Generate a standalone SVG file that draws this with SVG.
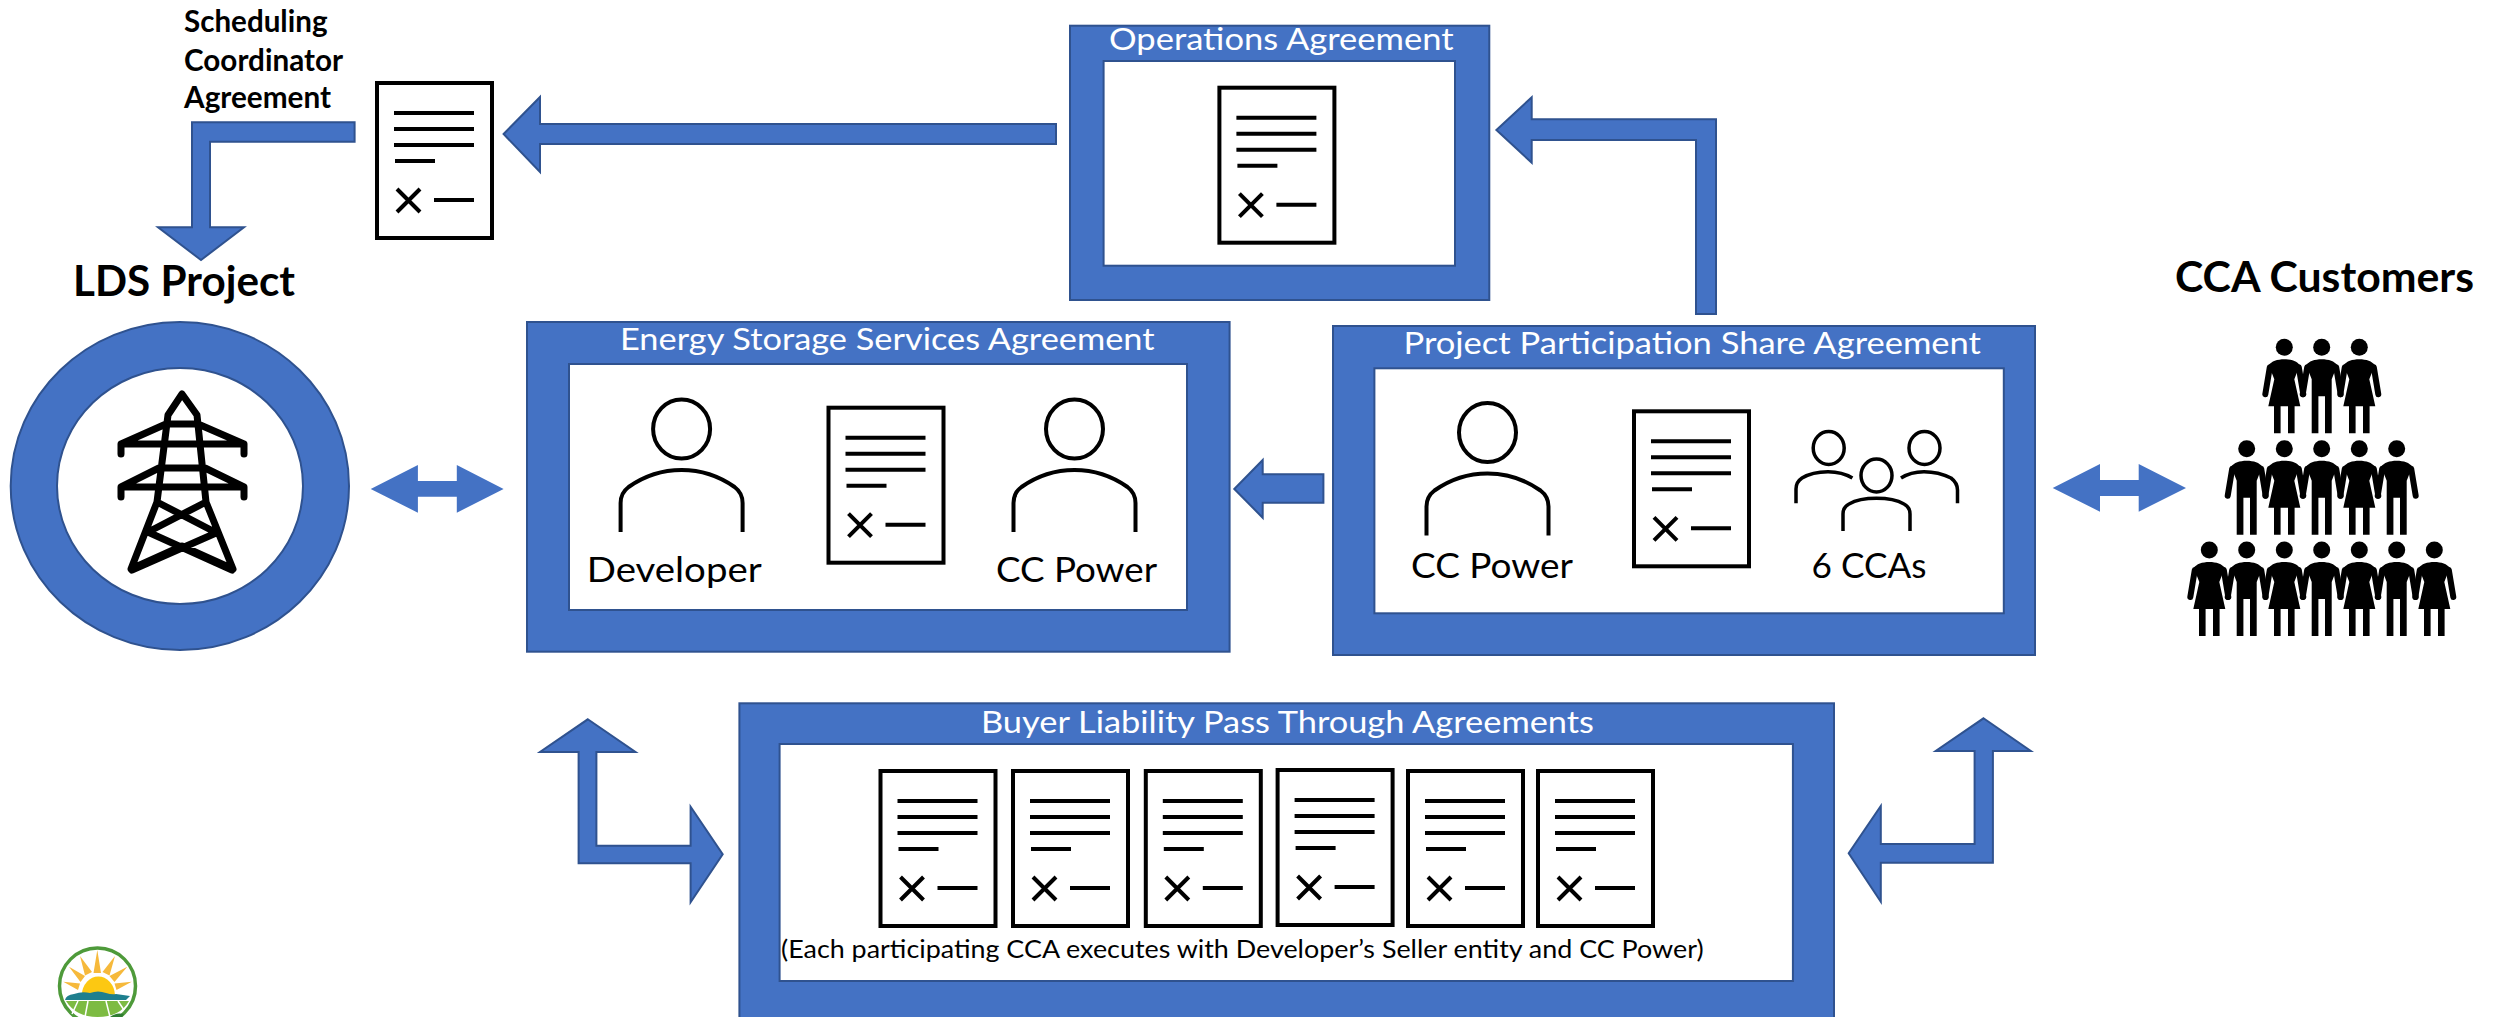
<svg xmlns="http://www.w3.org/2000/svg" xmlns:xlink="http://www.w3.org/1999/xlink" width="2496" height="1017" viewBox="0 0 2496 1017">
<style>
text{font-family:"Lato","Open Sans","Liberation Sans",sans-serif}
.frame{fill:#4472C4;stroke:#2F528F;stroke-width:2}
.panel{fill:#fff;stroke:#2F528F;stroke-width:2}
.arrow{fill:#4472C4;stroke:#2F528F;stroke-width:2}
.flat{fill:#4472C4}
.title{fill:#fff;font-size:30.500px}
.label{fill:#000;font-size:35.500px}
.head{fill:#000;font-size:42px;font-weight:700}
.sc{fill:#000;font-size:29.500px;font-weight:700}
.cap{fill:#000;font-size:25px}
.ink{fill:none;stroke:#000;stroke-width:4}
.fig{fill:#000}
.figarm{fill:none;stroke:#000;stroke-width:6;stroke-linecap:round}
.tower{fill:none;stroke:#000;stroke-width:7;stroke-linecap:round;stroke-linejoin:round}
</style>
<defs>
<g id="doc">
<rect class="ink" x="2" y="2" width="115" height="155" fill="#fff" style="fill:#fff"/>
<path class="ink" d="M19 32H99M19 48H99M19 64H99M20 80H60M59 119H99M22 108L45 131M45 108L22 131"/>
</g>
<g id="person">
<ellipse class="ink" rx="28.500" ry="29.500"/>
<path class="ink" d="M-61 103V74Q-61 64-53 58C-36 46-16 41 0 41C16 41 36 46 53 58Q61 64 61 74V103"/>
</g>
<g id="man">
<circle class="fig" r="8.500"/>
<path class="fig" d="M0 12C-7 12-13 14-15.500 18L-10 32V86H-3.300V49H3.300V86H10V32L15.500 18C13 14 7 12 0 12Z"/>
<path class="figarm" d="M-14.500 20L-19 47M14.500 20L19 47"/>
</g>
<g id="woman">
<circle class="fig" r="8.500"/>
<path class="fig" d="M0 12C-7 12-13 14-15.500 18L-10 32L-16 59H-10.300V86H-3.700V59H3.700V86H10.300V59H16L10 32L15.500 18C13 14 7 12 0 12Z"/>
<path class="figarm" d="M-14.500 20L-19 47M14.500 20L19 47"/>
</g>
</defs>
<rect width="2496" height="1017" fill="#fff"/>

<g id="connectors">
<polygon class="arrow" points="354.600,122.300 192,122.300 192,227.300 158,227.300 201,260 244,227.300 210,227.300 210,141.700 354.600,141.700"/>
<polygon class="arrow" points="503.600,134 540,97 540,124 1056,124 1056,144 540,144 540,172"/>
<polygon class="arrow" points="1496.400,130 1531.700,97.300 1531.700,119.300 1716,119.300 1716,314 1696,314 1696,140 1531.700,140 1531.700,162.700"/>
<polygon class="arrow" points="1234.300,489 1262.700,460 1262.700,474.300 1323.400,474.300 1323.400,502.700 1262.700,502.700 1262.700,517.700"/>
<polygon class="flat" points="370.700,489 417.900,465 417.900,481 456.800,481 456.800,465 503.600,489 456.800,512.700 456.800,496.700 417.900,496.700 417.900,512.700"/>
<polygon class="flat" points="2052.700,488 2100,464 2100,480 2138.700,480 2138.700,464 2186,488 2138.700,511.700 2138.700,496 2100,496 2100,511.700"/>
<polygon class="arrow" points="587.800,719.300 635.500,752 596.400,752 596.400,845.700 690.600,845.700 690.600,806.700 722.700,854.300 690.600,902.300 690.600,863.300 578.600,863.300 578.600,752 540,752"/>
<polygon class="arrow" points="1983.500,718.300 2030.800,751 1992.900,751 1992.900,862.700 1880.800,862.700 1880.800,901.700 1848.700,853.300 1880.800,806 1880.800,844 1974.600,844 1974.600,751 1935.700,751"/>
</g>

<g id="scheduling-coordinator-agreement">
<text class="sc" x="184" y="32" textLength="143.500" lengthAdjust="spacingAndGlyphs">Scheduling</text>
<text class="sc" x="184" y="70.700" textLength="159" lengthAdjust="spacingAndGlyphs">Coordinator</text>
<text class="sc" x="184" y="108" textLength="147" lengthAdjust="spacingAndGlyphs">Agreement</text>
<use xlink:href="#doc" href="#doc" transform="translate(375,81)"/>
</g>

<g id="operations-agreement">
<rect class="frame" x="1070" y="25.700" width="419.300" height="274.300"/>
<rect class="panel" x="1103.600" y="61" width="351.400" height="204.700"/>
<text class="title" x="1109" y="50" textLength="344.600" lengthAdjust="spacingAndGlyphs">Operations Agreement</text>
<use xlink:href="#doc" href="#doc" transform="translate(1217.400,85.700)"/>
</g>

<g id="lds-project">
<text class="head" x="73" y="296" textLength="222" lengthAdjust="spacingAndGlyphs">LDS Project</text>
<path d="M180 322C273.300 322 349 395.400 349 486C349 576.600 273.300 650 180 650C86.700 650 10.700 576.600 10.700 486C10.700 395.400 86.700 322 180 322ZM180 368C112 368 57 420.800 57 486C57 551.200 112 604 180 604C248 604 303 551.200 303 486C303 420.800 248 368 180 368Z" fill="#4472C4" fill-rule="evenodd" stroke="#2F528F" stroke-width="2"/>
<path class="tower" d="M168 415L182 394L197 415L206 502L233 569L182 546L131 569L157 502L168 415ZM168 424H197M166 424L121 444V454M198 424L244 444V454M121 444H244M159 468H205M159 468L121 487V497M205 468L244 487V497M121 487H244M157 502L211 530M206 502L152 530M150 533L232 570M216 533L132 570"/>
</g>

<g id="energy-storage-services-agreement">
<rect class="frame" x="527" y="322" width="702.600" height="329.700"/>
<rect class="panel" x="569" y="364" width="618" height="246"/>
<text class="title" x="620" y="350" textLength="534.600" lengthAdjust="spacingAndGlyphs">Energy Storage Services Agreement</text>
<use xlink:href="#person" href="#person" transform="translate(681.600,429)"/>
<use xlink:href="#person" href="#person" transform="translate(1074.500,429)"/>
<use xlink:href="#doc" href="#doc" transform="translate(826.500,405.700)"/>
<text class="label" x="586.700" y="581.700" textLength="175" lengthAdjust="spacingAndGlyphs">Developer</text>
<text class="label" x="996" y="581.700" textLength="161" lengthAdjust="spacingAndGlyphs">CC Power</text>
</g>

<g id="project-participation-share-agreement">
<rect class="frame" x="1333" y="326" width="702" height="329"/>
<rect class="panel" x="1374.400" y="368.300" width="629.400" height="245"/>
<text class="title" x="1403.500" y="354" textLength="577.500" lengthAdjust="spacingAndGlyphs">Project Participation Share Agreement</text>
<use xlink:href="#person" href="#person" transform="translate(1487.500,432.500)"/>
<use xlink:href="#doc" href="#doc" transform="translate(1632,409.300)"/>
<ellipse class="ink" cx="1828.700" cy="448" rx="15.500" ry="16.500" style="stroke-width:3.500"/>
<ellipse class="ink" cx="1924.500" cy="448" rx="15.500" ry="16.500" style="stroke-width:3.500"/>
<ellipse class="ink" cx="1876.500" cy="475.500" rx="15.500" ry="16.500" style="stroke-width:3.500"/>
<path class="ink" style="stroke-width:3.500" d="M1796 503.300V489Q1796 482 1802 478C1810 473 1820 471.700 1828 471.700C1837 471.700 1846 474 1852.400 478M1901 478C1907 474 1916 471.700 1924 471.700C1933 471.700 1943 474 1951 478Q1957.500 483 1957.500 490V503.300M1843 531V514Q1843 507 1849 504C1856 500 1866 498.300 1876.500 498.300C1887 498.300 1897 500 1904 504Q1910 507 1910 514V531"/>
<text class="label" x="1411" y="578" textLength="162" lengthAdjust="spacingAndGlyphs">CC Power</text>
<text class="label" x="1811.600" y="578" textLength="114.800" lengthAdjust="spacingAndGlyphs">6 CCAs</text>
</g>

<g id="buyer-liability-pass-through-agreements">
<rect class="frame" x="739.400" y="703.300" width="1094.600" height="330"/>
<rect class="panel" x="779.600" y="744" width="1013.300" height="237"/>
<text class="title" x="981" y="733.300" textLength="613" lengthAdjust="spacingAndGlyphs">Buyer Liability Pass Through Agreements</text>
<use xlink:href="#doc" href="#doc" transform="translate(878.500,769)"/>
<use xlink:href="#doc" href="#doc" transform="translate(1011,769)"/>
<use xlink:href="#doc" href="#doc" transform="translate(1143.800,769)"/>
<use xlink:href="#doc" href="#doc" transform="translate(1275.600,768)"/>
<use xlink:href="#doc" href="#doc" transform="translate(1406,769)"/>
<use xlink:href="#doc" href="#doc" transform="translate(1536,769)"/>
<text class="cap" x="781" y="958" textLength="922.600" lengthAdjust="spacingAndGlyphs">(Each participating CCA executes with Developer’s Seller entity and CC Power)</text>
</g>

<g id="cca-customers">
<text class="head" x="2175" y="292.300" textLength="299" lengthAdjust="spacingAndGlyphs">CCA Customers</text>
<use xlink:href="#woman" href="#woman" transform="translate(2284.300,347.300)"/>
<use xlink:href="#man" href="#man" transform="translate(2321.700,347.300)"/>
<use xlink:href="#woman" href="#woman" transform="translate(2359.300,347.300)"/>
<use xlink:href="#man" href="#man" transform="translate(2246.700,448.700)"/>
<use xlink:href="#woman" href="#woman" transform="translate(2284.300,448.700)"/>
<use xlink:href="#man" href="#man" transform="translate(2321.700,448.700)"/>
<use xlink:href="#woman" href="#woman" transform="translate(2359.300,448.700)"/>
<use xlink:href="#man" href="#man" transform="translate(2396.700,448.700)"/>
<use xlink:href="#woman" href="#woman" transform="translate(2209.300,550)"/>
<use xlink:href="#man" href="#man" transform="translate(2246.700,550)"/>
<use xlink:href="#woman" href="#woman" transform="translate(2284.300,550)"/>
<use xlink:href="#man" href="#man" transform="translate(2321.700,550)"/>
<use xlink:href="#woman" href="#woman" transform="translate(2359.300,550)"/>
<use xlink:href="#man" href="#man" transform="translate(2396.700,550)"/>
<use xlink:href="#woman" href="#woman" transform="translate(2434.300,550)"/>
</g>

<g id="logo">
<circle cx="97.500" cy="986" r="38" fill="#fff" stroke="#4E9A3A" stroke-width="3.500"/>
<path fill="#F6B93B" d="M97.300 950L101 973H93.500ZM80 956L92 972L85 975.500ZM115 956L109.500 975.500L102.500 972ZM69 966.700L85 976L80.500 982ZM127.300 966.700L114.500 982L109.500 976ZM63.300 981.700L80 983.500L78 990ZM131.700 981.700L116.500 990L114.500 983.500Z"/>
<path d="M81.700 995A16.700 20 0 0 1 115 995Z" fill="#FCC812"/>
<path d="M65 1000Q66 995 74 994Q82 991 90 993Q98 990 106 993Q112 995 116 994L130 996L126 1000Z" fill="#1E7F8E"/>
<path d="M66 1001H129Q120 1017 97.500 1017Q76 1017 66 1001Z" fill="#7DBB42"/>
<path d="M78 1001L72 1014M88 1001L85 1017M106 1001L110 1017M118 1001L124 1010" stroke="#fff" stroke-width="1.500" fill="none"/>
<path d="M110 1017Q116 1012 124 1014L122 1017Z" fill="#2F7D32"/>
</g>
</svg>
